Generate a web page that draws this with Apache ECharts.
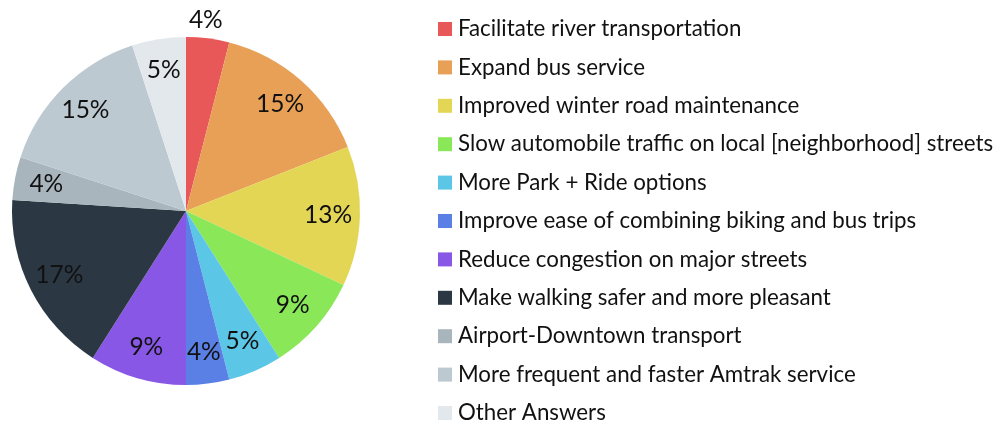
<!DOCTYPE html>
<html>
<head>
<meta charset="utf-8">
<script src="https://cdn.jsdelivr.net/npm/echarts@6/dist/echarts.min.js"></script>
<style>
  html, body { margin: 0; padding: 0; background: #ffffff; }
  #chart { width: 1003px; height: 423px; }
</style>
</head>
<body>
<div id="chart"></div>
<script>
// Transportation priorities: share of responses (%)
const categories = [
  'Facilitate river transportation',
  'Expand bus service',
  'Improved winter road maintenance',
  'Slow automobile traffic on local [neighborhood] streets',
  'More Park + Ride options',
  'Improve ease of combining biking and bus trips',
  'Reduce congestion on major streets',
  'Make walking safer and more pleasant',
  'Airport-Downtown transport',
  'More frequent and faster Amtrak service',
  'Other Answers'
];
const shares = [4, 15, 13, 9, 5, 4, 9, 17, 4, 15, 5];
const colors = [
  '#E85858', '#E8A056', '#E4D655', '#8AE758', '#5BC6E6', '#5A80E6',
  '#8957E6', '#2B3743', '#A9B5BC', '#BCC9D0', '#E3E8EC'
];

const FONT = 'Lato, "Open Sans", sans-serif';
const CX = 186, CY = 211, R = 174;

const pieData = categories.map((name, i) => ({
  name: name,
  value: shares[i],
  itemStyle: { color: colors[i] }
}));

// Transparent ring carrying the percentage labels a bit outward from mid-radius
const labelData = categories.map((name, i) => {
  const d = { name: name, value: shares[i], itemStyle: { color: 'rgba(0,0,0,0)' } };
  if (i === 0) d.label = { offset: [2, -50] };
  return d;
});

const chart = echarts.init(document.getElementById('chart'), null, { renderer: 'canvas' });
chart.setOption({
  animation: false,
  backgroundColor: '#ffffff',
  legend: {
    orient: 'vertical',
    left: 433,
    top: 12,
    height: 420,
    icon: 'rect',
    itemWidth: 14,
    itemHeight: 14,
    itemGap: 14.4,
    textStyle: { fontFamily: FONT, fontSize: 22.3, color: '#111111', lineHeight: 24, padding: [0, 0, 0, 1] },
    data: categories
  },
  series: [
    {
      type: 'pie',
      center: [CX, CY],
      radius: [0, R],
      startAngle: 90,
      clockwise: true,
      label: { show: false },
      labelLine: { show: false },
      emphasis: { disabled: true },
      data: pieData
    },
    {
      type: 'pie',
      center: [CX, CY],
      radius: [R * 0.6, R],
      startAngle: 90,
      clockwise: true,
      silent: true,
      legendHoverLink: false,
      label: {
        show: true,
        position: 'inside',
        formatter: '{c}%',
        fontFamily: FONT,
        fontSize: 24.5,
        color: '#111111'
      },
      labelLine: { show: false },
      emphasis: { disabled: true },
      data: labelData
    }
  ]
});
</script>
</body>
</html>
